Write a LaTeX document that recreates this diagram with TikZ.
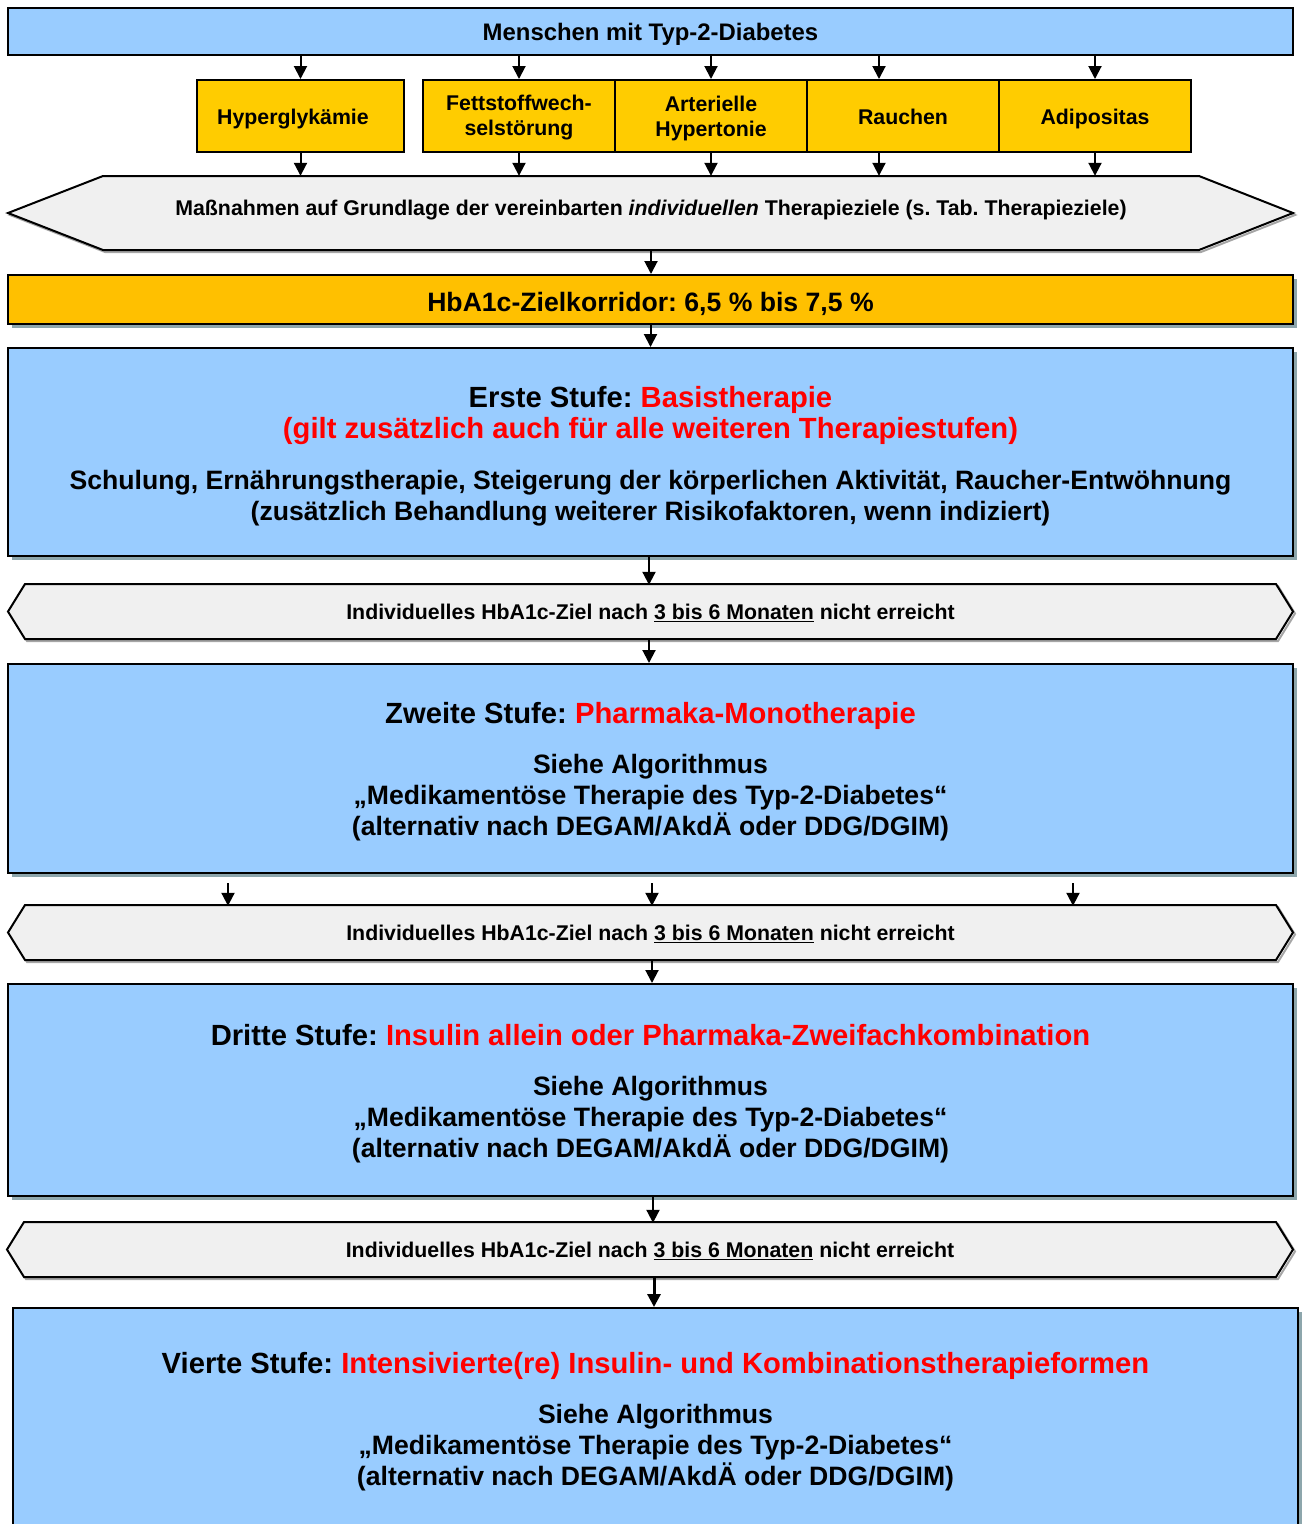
\documentclass[tikz,border=0pt]{standalone}
\usepackage{fontspec}
\setmainfont{Liberation Sans}
\usetikzlibrary{arrows.meta,shadows}
\definecolor{boxblue}{HTML}{99CCFF}
\definecolor{gold}{HTML}{FFCC00}
\definecolor{amber}{HTML}{FFC000}
\definecolor{hexgray}{HTML}{F0F0F0}
\definecolor{shadowcol}{HTML}{8DA6AC}
\definecolor{redtext}{HTML}{FF0000}
\frenchspacing
\newcommand{\titlefont}{\fontsize{29.2}{33}\selectfont}
\begin{document}
\begin{tikzpicture}[x=1pt,y=-1pt,
  bigbox/.style={draw=black,line width=2pt,fill=boxblue,inner sep=0pt,
    drop shadow={shadow xshift=4pt,shadow yshift=-4pt,fill=shadowcol,opacity=1}},
  boxtext/.style={inner sep=0pt,align=center,font=\bfseries\fontsize{26.6}{31}\selectfont},
  riskbox/.style={draw=black,line width=2pt,fill=gold,inner sep=0pt,minimum height=72pt,
    minimum width=192pt,align=center,font=\bfseries\fontsize{21.3}{25}\selectfont,
    text height=17.2pt,text depth=0pt},
  risktext/.style={inner sep=0pt,align=center,font=\bfseries\fontsize{21.3}{25}\selectfont},
  hexlabel/.style={inner sep=0pt,align=center,font=\bfseries\fontsize{21.3}{25}\selectfont},
  hexshape/.style={draw=black,line width=2pt,fill=hexgray,line join=miter},
  hexshadow/.style={draw=black!35,line width=2pt,line join=miter},
  arr/.style={line width=2pt,-{Triangle[width=13pt,length=13pt]}},
]
\useasboundingbox (0,0) rectangle (1303,1524);

% top box
\node[draw=black,line width=2pt,fill=boxblue,inner sep=0pt,minimum width=1285pt,minimum height=47pt,
  font=\bfseries\fontsize{23.9}{28}\selectfont,text height=18.2pt,text depth=0pt] (top) at (650.5,31.5)
  {Menschen mit Typ-2-Diabetes};

% risk factors
\node[riskbox,minimum width=207pt] (hyper) at (300.5,116) {Hyperglykämie\hspace*{15pt}};
\node[riskbox] (fett) at (519,116) {};
\node[risktext] (fettt) at (519,118) {Fettstoffwech-\\selstörung};
\node[riskbox] (art) at (711,116) {};
\node[risktext] (artt) at (711,118) {Arterielle\\Hypertonie};
\node[riskbox] (rauch) at (903,116) {Rauchen};
\node[riskbox] (adip) at (1095,116) {Adipositas};

% hexagon 1
\path[hexshadow] (10,215) -- (105,178) -- (1201,178) -- (1295,215) -- (1201,252) -- (105,252) -- cycle;
\path[hexshape] (8,213) -- (103,176) -- (1199,176) -- (1293,213) -- (1199,250) -- (103,250) -- cycle;
\node[hexlabel,minimum width=1096pt,minimum height=74pt,text height=5.4pt,text depth=0pt] (mass) at (651,213)
  {Maßnahmen auf Grundlage der vereinbarten \textit{individuellen} Therapieziele (s. Tab. Therapieziele)};

% HbA1c corridor
\node[draw=black,line width=2pt,fill=amber,inner sep=0pt,minimum width=1285pt,minimum height=49pt,
  font=\bfseries\fontsize{26.6}{31}\selectfont,text height=24pt,text depth=0pt,
  drop shadow={shadow xshift=4pt,shadow yshift=-4pt,fill=shadowcol,opacity=1}] (hba) at (650.5,299.5)
  {HbA1c-Zielkorridor: 6,5 \% bis 7,5 \%};

% Stufe 1
\node[bigbox,minimum width=1285pt,minimum height=208pt] (s1) at (650.5,452) {};
\node[boxtext] (s1t) at (650.5,456)
  {{\titlefont Erste Stufe: {\color{redtext}Basistherapie}}\\
   {\titlefont\color{redtext}(gilt zusätzlich auch für alle weiteren Therapiestufen)}\\[19.5pt]
   Schulung, Ernährungstherapie, Steigerung der körperlichen Aktivität, Raucher-Entwöhnung\\
   (zusätzlich Behandlung weiterer Risikofaktoren, wenn indiziert)};

% hexagon 2
\path[hexshadow] (10,613.5) -- (27,586) -- (1278,586) -- (1295,613.5) -- (1278,641) -- (27,641) -- cycle;
\path[hexshape] (8,611.5) -- (25,584) -- (1276,584) -- (1293,611.5) -- (1276,639) -- (25,639) -- cycle;
\node[hexlabel,minimum width=1251pt,minimum height=55pt] (c1) at (650.5,612.5)
  {Individuelles HbA1c-Ziel nach \underline{3 bis 6 Monaten} nicht erreicht};

% Stufe 2
\node[bigbox,minimum width=1285pt,minimum height=209pt] (s2) at (650.5,768.5) {};
\node[boxtext] (s2t) at (650.5,771.5)
  {{\titlefont Zweite Stufe: {\color{redtext}Pharmaka-Monotherapie}}\\[19.5pt]
   Siehe Algorithmus\\
   „Medikamentöse Therapie des Typ-2-Diabetes“\\
   (alternativ nach DEGAM/AkdÄ oder DDG/DGIM)};

% hexagon 3
\path[hexshadow] (10,934.5) -- (27,907) -- (1278,907) -- (1295,934.5) -- (1278,962) -- (27,962) -- cycle;
\path[hexshape] (8,932.5) -- (25,905) -- (1276,905) -- (1293,932.5) -- (1276,960) -- (25,960) -- cycle;
\node[hexlabel,minimum width=1251pt,minimum height=55pt] (c2) at (650.5,933.5)
  {Individuelles HbA1c-Ziel nach \underline{3 bis 6 Monaten} nicht erreicht};

% Stufe 3
\node[bigbox,minimum width=1285pt,minimum height=212pt] (s3) at (650.5,1090) {};
\node[boxtext] (s3t) at (650.5,1093.5)
  {{\titlefont Dritte Stufe: {\color{redtext}Insulin allein oder Pharmaka-Zweifachkombination}}\\[19.5pt]
   Siehe Algorithmus\\
   „Medikamentöse Therapie des Typ-2-Diabetes“\\
   (alternativ nach DEGAM/AkdÄ oder DDG/DGIM)};

% hexagon 4
\path[hexshadow] (9,1251.5) -- (26,1224) -- (1278,1224) -- (1295,1251.5) -- (1278,1279) -- (26,1279) -- cycle;
\path[hexshape] (7,1249.5) -- (24,1222) -- (1276,1222) -- (1293,1249.5) -- (1276,1277) -- (24,1277) -- cycle;
\node[hexlabel,minimum width=1252pt,minimum height=55pt] (c3) at (650,1250.5)
  {Individuelles HbA1c-Ziel nach \underline{3 bis 6 Monaten} nicht erreicht};

% Stufe 4
\node[bigbox,minimum width=1285pt,minimum height=223pt] (s4) at (655.5,1419.5) {};
\node[boxtext] (s4t) at (655.5,1421.5)
  {{\titlefont Vierte Stufe: {\color{redtext}Intensivierte(re) Insulin- und Kombinationstherapieformen}}\\[19.5pt]
   Siehe Algorithmus\\
   „Medikamentöse Therapie des Typ-2-Diabetes“\\
   (alternativ nach DEGAM/AkdÄ oder DDG/DGIM)};

% connectors: top -> risk factors -> hexagon
\path ([xshift=-24pt]rauch.north) coordinate (rtop);
\path ([xshift=-24pt]rauch.south) coordinate (rbot);
\foreach \n in {hyper,fett,art,adip}{
  \draw[arr] (\n.north |- top.south) -- (\n.north);
  \draw[arr] (\n.south) -- (\n.south |- mass.north);
}
\draw[arr] (rtop |- top.south) -- (rtop);
\draw[arr] (rbot) -- (rbot |- mass.north);

\draw[arr] (mass.south) -- (mass.south |- hba.north);
\draw[arr] (hba.south) -- (hba.south |- s1.north);
\draw[arr] ([xshift=-1.5pt]s1.south) -- ([xshift=-1.5pt]s1.south |- c1.north);
\draw[arr] ([xshift=-1.5pt]c1.south) -- ([xshift=-1.5pt]c1.south |- s2.north);
\draw[arr] ([xshift=-422.5pt,yshift=-9pt]s2.south) -- ([xshift=-422.5pt]s2.south |- c2.north);
\draw[arr] ([xshift=1.5pt,yshift=-9pt]s2.south) -- ([xshift=1.5pt]s2.south |- c2.north);
\draw[arr] ([xshift=422.5pt,yshift=-9pt]s2.south) -- ([xshift=422.5pt]s2.south |- c2.north);
\draw[arr] ([xshift=1.5pt]c2.south) -- ([xshift=1.5pt]c2.south |- s3.north);
\draw[arr] ([xshift=2.5pt]s3.south) -- ([xshift=2.5pt]s3.south |- c3.north);
\draw[line width=3pt,-{Triangle[width=13pt,length=13pt]}] ([xshift=4pt]c3.south) -- ([xshift=4pt]c3.south |- s4.north);
\end{tikzpicture}
\end{document}
